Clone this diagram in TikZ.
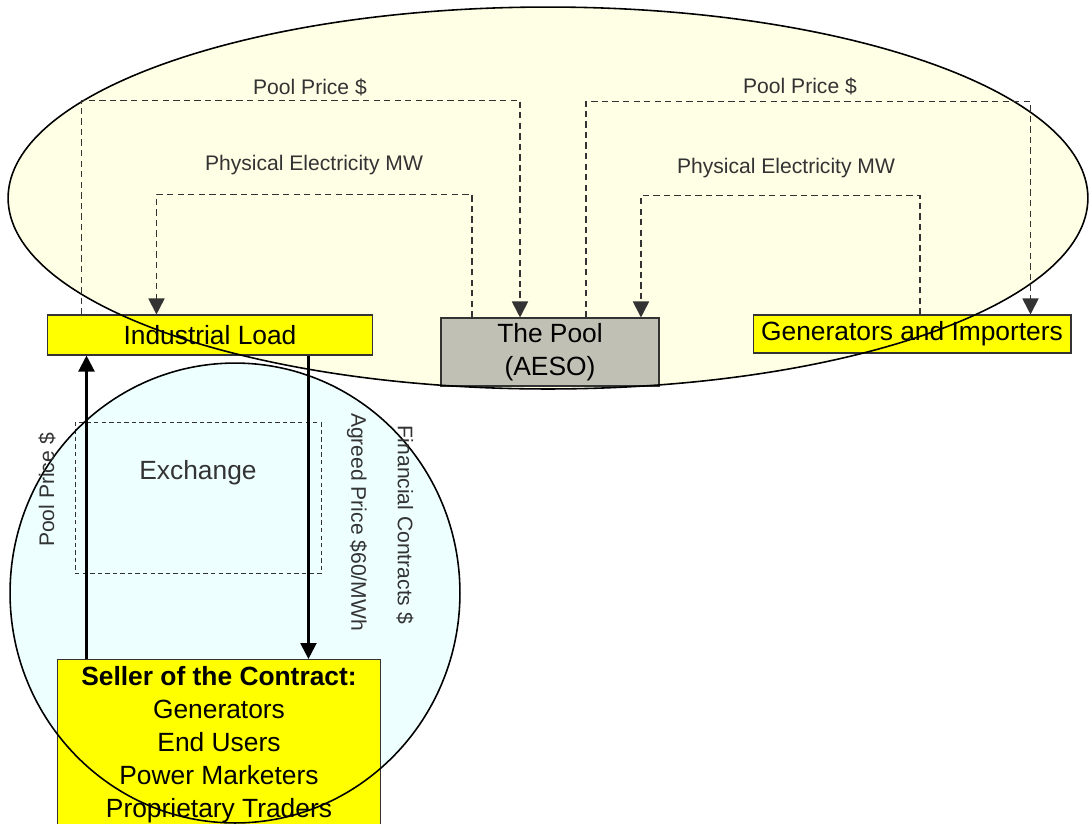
\documentclass[tikz,border=0pt]{standalone}
\usepackage{fontspec}
\setmainfont{Liberation Sans}
\usetikzlibrary{positioning, arrows.meta}
\definecolor{boxyellow}{HTML}{FFFF00}
\definecolor{poolgray}{HTML}{C0C0B4}
\definecolor{marketfill}{HTML}{FFFFE6}
\definecolor{contractfill}{HTML}{EEFFFF}
\definecolor{inkgray}{HTML}{333333}

\begin{document}
\begin{tikzpicture}[
    x=0.02cm, y=-0.02cm,
    box/.style={
        rectangle,
        draw=inkgray,
        line width=0.6pt,
        align=center,
        inner sep=0pt,
        font=\fontsize{15}{19}\selectfont
    },
    dasharrow/.style={
        -{Triangle[length=3.2mm,width=3.2mm]},
        dash pattern=on 3.6pt off 2.4pt,
        line width=1pt,
        draw=inkgray
    },
    flowarrow/.style={
        -{Triangle[length=3.2mm,width=3.2mm]},
        line width=1.3pt,
        draw=black
    },
    lbl/.style={
        font=\fontsize{12}{14}\selectfont,
        text=inkgray,
        inner sep=0pt
    },
    region/.style={
        line width=0.9pt,
        draw=black
    }
]
\useasboundingbox (0,0) rectangle (1089,823);

% ------------------------------------------------------------------
% MARKET AREAS (fills)
% ------------------------------------------------------------------

\fill[marketfill] (548,198) ellipse [x radius=10.8cm, y radius=3.82cm];
\fill[contractfill] (235,593) ellipse [x radius=4.5cm, y radius=4.6cm];

% ------------------------------------------------------------------
% PARTICIPANTS
% ------------------------------------------------------------------

\node[box, fill=boxyellow, minimum width=6.52cm, minimum height=0.8cm]
    (load) at (210,335) {Industrial Load};

\node[box, fill=poolgray, minimum width=4.36cm, minimum height=1.36cm]
    (pool) at (550,352) {The Pool\\(AESO)};

\node[box, fill=boxyellow, minimum width=6.36cm, minimum height=0.76cm]
    (gens) at (912,334) {Generators and Importers};

\node[box, fill=boxyellow, anchor=north, minimum width=6.48cm,
      inner ysep=4pt, font=\fontsize{15}{18.8}\selectfont]
    (seller) at (219,659)
{\textbf{Seller of the Contract:}\\Generators\\End Users\\Power Marketers\\Proprietary Traders};

% ------------------------------------------------------------------
% EXCHANGE
% ------------------------------------------------------------------

\node[draw=inkgray, dash pattern=on 2.5pt off 1.8pt, line width=0.5pt,
      minimum width=4.92cm, minimum height=3.02cm, inner sep=0pt]
    (exchange) at (198,498) {};
\node[lbl, font=\fontsize{15}{18}\selectfont] (exchtext) at (198,473) {Exchange};

% ------------------------------------------------------------------
% MARKET AREAS (outlines)
% ------------------------------------------------------------------

\draw[region] (548,198) ellipse [x radius=10.8cm, y radius=3.82cm];
\draw[region] (235,593) ellipse [x radius=4.5cm, y radius=4.6cm];

% ------------------------------------------------------------------
% POOL FLOWS
% ------------------------------------------------------------------

\draw[dasharrow] ([xshift=0.7cm]load.north west) -- ++(0,-214)
    -| ([xshift=-0.6cm]pool.north);
\draw[dasharrow] ([xshift=-1.56cm]pool.north) -- ++(0,-123)
    -| ([xshift=2.2cm]load.north west);
\draw[dasharrow] ([xshift=0.72cm]pool.north) -- ++(0,-216)
    -| ([xshift=-0.82cm]gens.north east);
\draw[dasharrow] ([xshift=0.16cm]gens.north) -- ++(0,-119)
    -| ([xshift=1.82cm]pool.north);

\node[lbl] (poolprice1) at (310,87) {Pool Price \$};
\node[lbl] (physical1) at (314,165) {Physical Electricity MW};
\node[lbl] (poolprice2) at (800,86) {Pool Price \$};
\node[lbl] (physical2) at (786,168) {Physical Electricity MW};

% ------------------------------------------------------------------
% CONTRACT FLOWS
% ------------------------------------------------------------------

\draw[flowarrow] ([xshift=0.6cm]seller.north west)
    -- ([xshift=0.6cm]seller.north west |- load.south);
\draw[flowarrow] ([xshift=5.24cm]load.south west)
    -- ([xshift=5.24cm]load.south west |- seller.north);

\node[lbl, rotate=90] (poolprice3) at (47,490) {Pool Price \$};
\node[lbl, rotate=-90] (agreed) at (357,522) {Agreed Price \$60/MWh};
\node[lbl, rotate=-90] (financial) at (405,525) {Financial Contracts \$};

\end{tikzpicture}
\end{document}
